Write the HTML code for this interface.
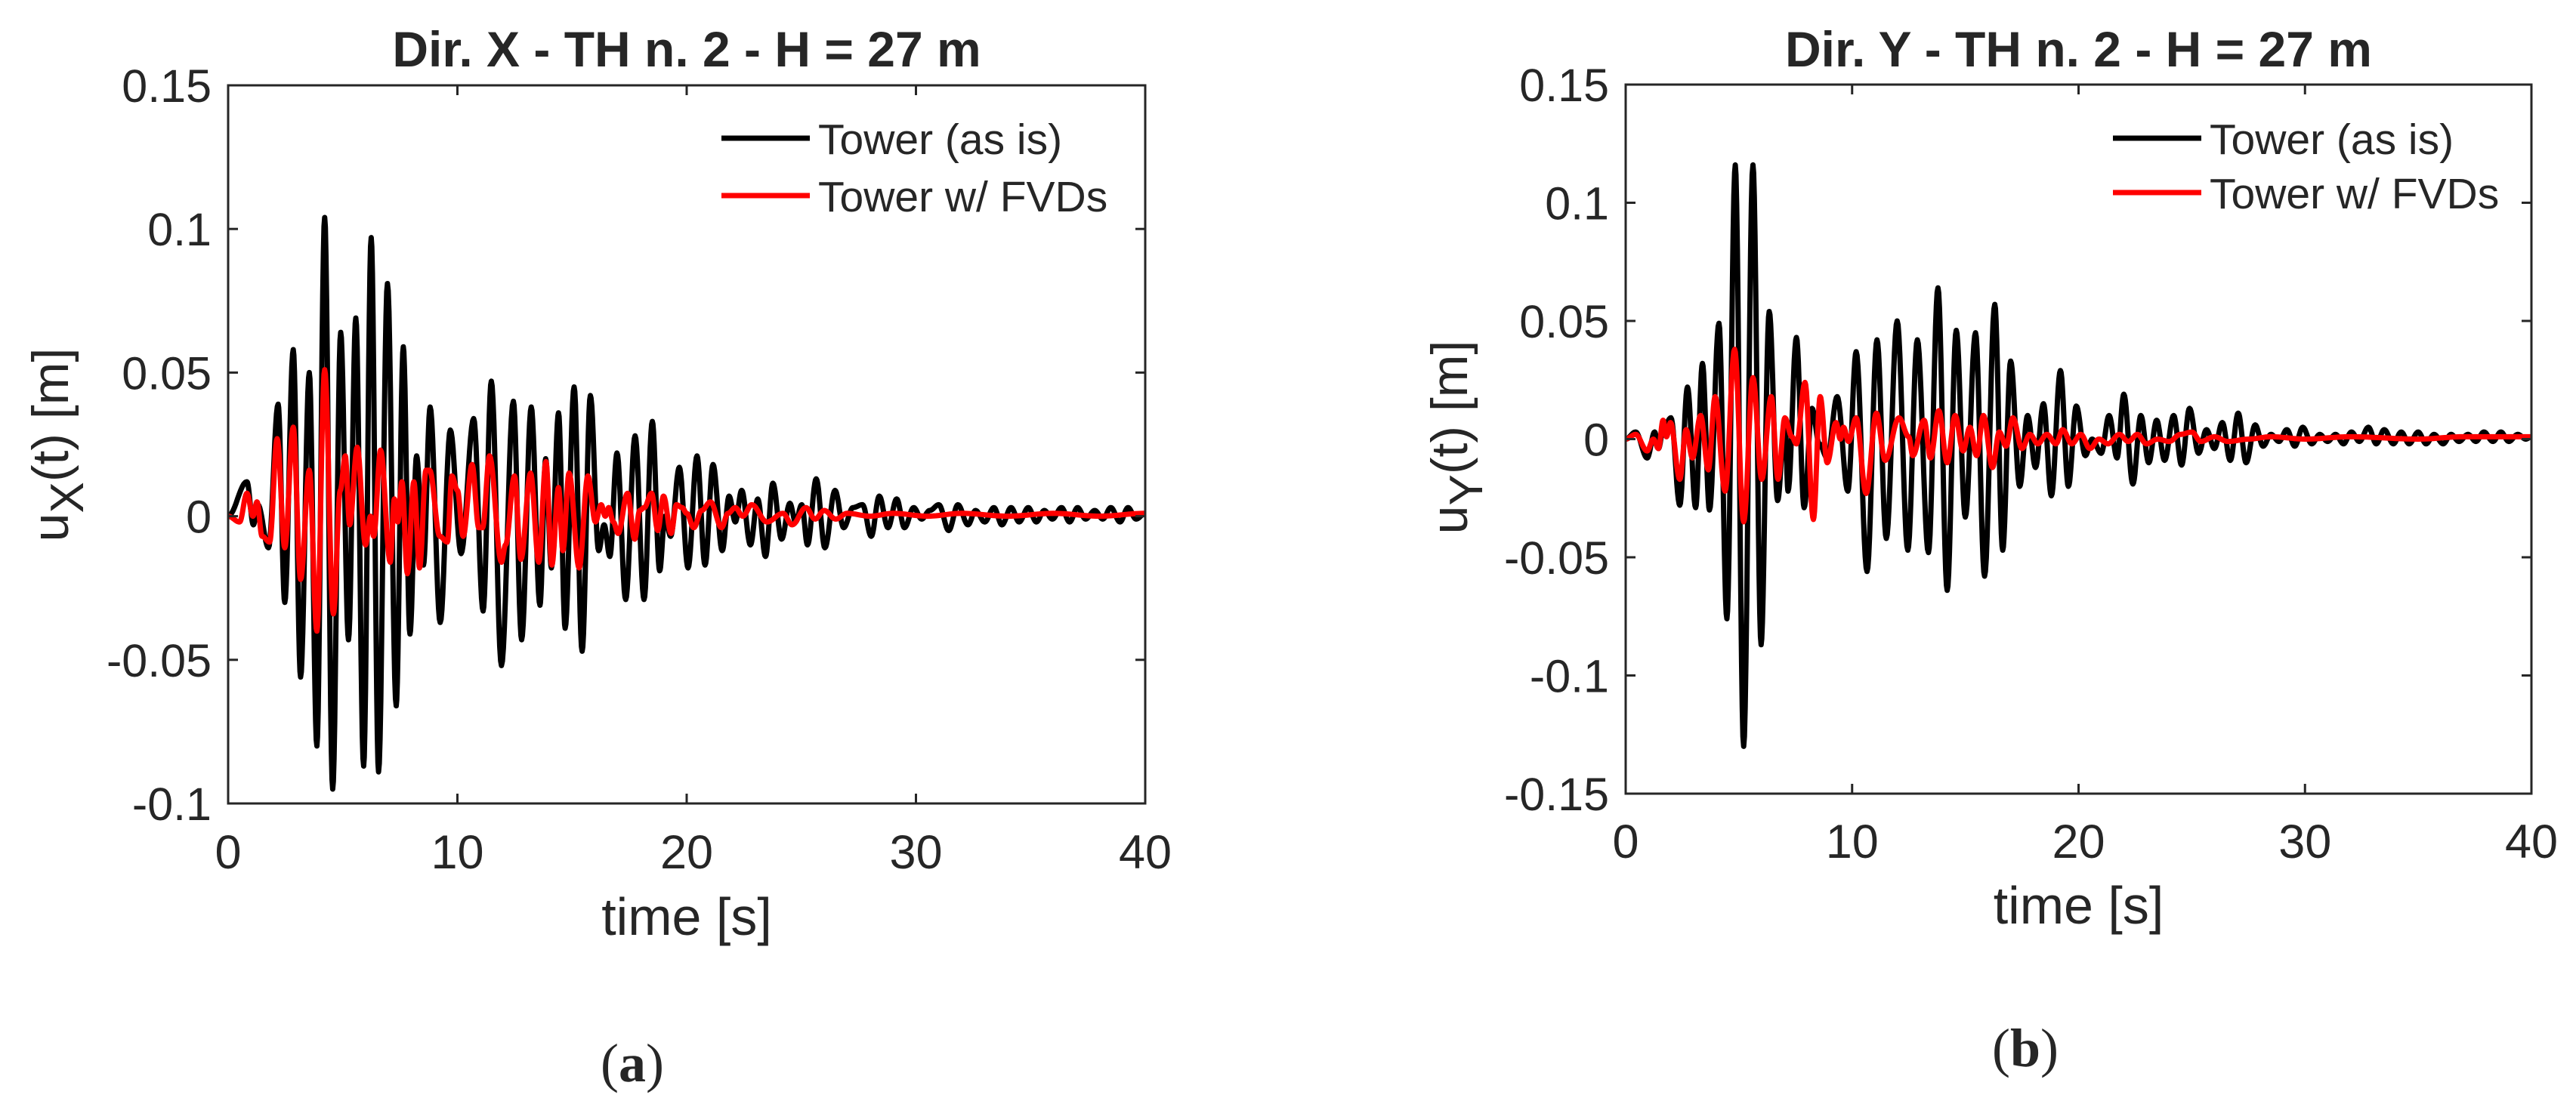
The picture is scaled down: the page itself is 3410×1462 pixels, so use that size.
<!DOCTYPE html>
<html><head><meta charset="utf-8"><style>
html,body{margin:0;padding:0;background:#fff;}
svg{display:block;}
text{font-family:"Liberation Sans",Arial,sans-serif;fill:#262626;}
</style></head>
<body>
<svg id="fig" width="3410" height="1462" viewBox="0 0 3410 1462" xmlns="http://www.w3.org/2000/svg">
<rect width="3410" height="1462" fill="#fff"/>
</svg>
<script>
// ---- Panel (a): Dir. X ----
const xTicks = [0, 10, 20, 30, 40];
const aYTicks = [-0.1, -0.05, 0, 0.05, 0.1, 0.15];
const aYTickLabels = ["-0.1", "-0.05", "0", "0.05", "0.1", "0.15"];
const aBlackT = [0,0.82,1.1,1.3,1.76,2.18,2.47,2.84,3.16,3.54,3.87,4.21,4.56,4.91,5.25,5.57,5.91,6.24,6.56,6.95,7.33,7.64,7.93,8.22,8.52,8.81,9.25,9.69,10.16,10.71,11.12,11.48,11.92,12.44,12.8,13.22,13.6,13.85,14.1,14.41,14.7,15.09,15.44,15.8,16.16,16.4,16.65,16.96,17.34,17.75,18.14,18.5,18.82,19.05,19.3,19.68,20.06,20.45,20.8,21.15,21.55,21.85,22.12,22.4,22.78,23.1,23.44,23.76,24.14,24.5,24.75,25.02,25.27,25.65,26.03,26.47,26.85,27.25,27.67,28.05,28.4,28.78,29.16,29.5,29.9,30.25,30.6,31.0,31.43,31.83,32.27,32.6,33.0,33.4,33.75,34.15,34.5,34.9,35.25,35.6,35.95,36.35,36.7,37.05,37.4,37.8,38.15,38.5,38.9,39.25,39.6,40];
const aBlackV = [0,0.012,-0.003,0.004,-0.011,0.039,-0.03,0.058,-0.056,0.05,-0.08,0.104,-0.095,0.064,-0.043,0.069,-0.087,0.097,-0.089,0.081,-0.066,0.059,-0.041,0.021,-0.017,0.038,-0.037,0.03,-0.013,0.034,-0.033,0.047,-0.052,0.04,-0.043,0.038,-0.031,0.02,-0.018,0.036,-0.039,0.045,-0.047,0.042,-0.012,-0.003,-0.014,0.022,-0.029,0.028,-0.029,0.033,-0.019,0.0,-0.007,0.017,-0.018,0.021,-0.017,0.018,-0.012,0.007,-0.002,0.009,-0.01,0.006,-0.014,0.0115,-0.008,0.0045,-0.002,0.004,-0.01,0.013,-0.011,0.009,-0.004,0.003,0.004,-0.007,0.007,-0.004,0.006,-0.004,0.003,-0.001,0.002,0.004,-0.005,0.004,-0.003,0.002,-0.002,0.003,-0.003,0.003,-0.002,0.003,-0.002,0.002,-0.001,0.003,-0.002,0.003,-0.001,0.002,-0.001,0.003,-0.002,0.003,-0.001,0.001];
const aRedT = [0,0.5,0.82,1.08,1.26,1.48,1.81,2.14,2.47,2.84,3.16,3.54,3.87,4.21,4.59,4.89,5.11,5.3,5.63,5.99,6.21,6.35,6.65,7.07,7.25,7.4,7.58,7.82,8.1,8.35,8.63,8.79,9.23,9.56,9.76,10.0,10.25,10.64,10.93,11.1,11.4,11.92,12.1,12.49,12.77,13.19,13.55,13.86,14.12,14.41,14.6,14.87,15.31,15.69,16.02,16.27,16.45,16.6,16.8,17.01,17.42,17.73,17.95,18.15,18.47,18.74,18.99,19.32,19.55,19.8,20.0,20.31,20.65,21.04,21.52,21.8,22.12,22.45,22.84,23.5,24.2,24.6,25.2,25.6,26.0,26.5,27.0,28.0,29.0,30.5,32.0,34.0,36.0,38.0,40];
const aRedV = [0,-0.002,0.008,0.0,0.005,-0.007,-0.009,0.027,-0.011,0.031,-0.022,0.016,-0.04,0.051,-0.034,0.009,0.021,-0.003,0.024,-0.01,0.0,-0.007,0.023,-0.016,0.006,-0.002,0.012,-0.02,0.012,-0.018,0.016,0.016,-0.007,-0.009,0.014,0.009,-0.007,0.018,-0.004,-0.004,0.021,-0.016,-0.01,0.014,-0.015,0.015,-0.016,0.019,-0.017,0.01,-0.012,0.015,-0.018,0.014,-0.002,0.004,0.0,0.003,-0.002,-0.006,0.008,-0.008,0.002,0.003,0.008,-0.005,0.007,-0.006,0.004,0.003,0.001,-0.004,0.002,0.005,-0.004,0.001,0.003,0.0,0.004,-0.002,0.001,-0.003,0.003,-0.001,0.002,-0.001,0.001,0.0,0.001,0.0,0.001,0.0,0.001,0.0,0.001];

// ---- Panel (b): Dir. Y ----
const bYTicks = [-0.15, -0.1, -0.05, 0, 0.05, 0.1, 0.15];
const bYTickLabels = ["-0.15", "-0.1", "-0.05", "0", "0.05", "0.1", "0.15"];
const bBlackT = [0,0.44,0.95,1.28,1.45,1.67,2.0,2.39,2.73,3.09,3.39,3.7,4.12,4.47,4.84,5.21,5.62,5.98,6.34,6.71,7.03,7.17,7.54,7.88,8.23,8.55,8.9,9.34,9.81,10.18,10.66,11.1,11.51,11.99,12.46,12.88,13.37,13.79,14.2,14.6,15.0,15.45,15.85,16.3,16.65,17.0,17.4,17.75,18.1,18.45,18.8,19.2,19.55,19.9,20.3,20.6,21.0,21.35,21.7,22.0,22.4,22.75,23.1,23.45,23.8,24.2,24.55,24.9,25.3,25.65,26.0,26.35,26.7,27.05,27.4,27.8,28.15,28.5,28.85,29.2,29.55,29.9,30.3,30.65,31.0,31.35,31.7,32.05,32.4,32.8,33.15,33.5,33.9,34.25,34.6,35.0,35.35,35.7,36.1,36.45,36.8,37.2,37.55,37.9,38.3,38.65,39.0,39.4,39.75,40];
const bBlackV = [0,0.003,-0.008,0.003,-0.004,0.005,0.009,-0.028,0.022,-0.029,0.032,-0.03,0.049,-0.076,0.116,-0.13,0.116,-0.087,0.054,-0.026,0.008,-0.022,0.043,-0.029,0.013,-0.002,-0.008,0.018,-0.022,0.037,-0.056,0.042,-0.042,0.05,-0.047,0.042,-0.048,0.064,-0.064,0.046,-0.033,0.045,-0.058,0.057,-0.047,0.033,-0.02,0.01,-0.012,0.015,-0.024,0.029,-0.02,0.014,-0.007,0.0,-0.006,0.01,-0.008,0.019,-0.019,0.01,-0.01,0.008,-0.009,0.01,-0.011,0.013,-0.006,0.004,-0.004,0.007,-0.009,0.011,-0.01,0.006,-0.003,0.002,-0.001,0.004,-0.003,0.005,-0.002,0.002,-0.001,0.002,-0.002,0.003,-0.001,0.005,-0.002,0.004,-0.002,0.003,-0.002,0.003,-0.002,0.002,-0.002,0.002,-0.001,0.002,-0.001,0.003,-0.001,0.003,-0.001,0.002,0.0,0.001];
const bRedT = [0,0.44,0.95,1.22,1.45,1.65,1.8,1.98,2.39,2.67,2.95,3.31,3.65,3.95,4.39,4.81,5.21,5.62,6.01,6.43,6.73,7.03,7.34,7.54,7.92,8.29,8.59,8.9,9.29,9.48,9.62,9.84,10.18,10.62,11.07,11.46,12.07,12.5,12.68,13.18,13.46,13.83,14.2,14.55,14.9,15.2,15.5,15.8,16.2,16.5,16.8,17.1,17.5,17.85,18.2,18.6,19.0,19.3,19.7,20.1,20.5,20.9,21.3,21.8,22.2,22.6,23.0,23.5,24.0,24.5,25.0,25.4,26.0,26.6,27.5,28.5,30.0,32.0,35.0,37.0,40];
const bRedV = [0,0.002,-0.005,0.0,-0.004,0.008,0.001,0.007,-0.017,0.004,-0.008,0.01,-0.013,0.018,-0.022,0.038,-0.035,0.026,-0.017,0.018,-0.017,0.009,0.001,-0.002,0.024,-0.034,0.018,-0.01,0.007,0.0,0.005,-0.001,0.009,-0.023,0.011,-0.009,0.009,0.001,-0.007,0.008,-0.008,0.012,-0.01,0.01,-0.005,0.005,-0.007,0.01,-0.012,0.003,-0.003,0.009,-0.004,0.002,-0.002,0.002,-0.002,0.004,-0.002,0.002,-0.004,0.0,-0.002,0.002,-0.001,0.002,-0.002,0.0,-0.001,0.002,0.003,-0.001,0.001,-0.001,0.0,0.001,0.0,0.001,0.0,0.001,0.001];

const NS = "http://www.w3.org/2000/svg";
const svg = document.getElementById('fig');
function mk(tag, attrs, parent) {
  const e = document.createElementNS(NS, tag);
  for (const k in attrs) e.setAttribute(k, attrs[k]);
  (parent || svg).appendChild(e);
  return e;
}

function panel(cfg) {
  const g = mk('g', {});
  
  
  const L = cfg.left, R = cfg.right, T = cfg.top, B = cfg.bottom;
  const xs = t => L + t / 40 * (R - L);
  const ys = v => B - (v - cfg.ymin) / (cfg.ymax - cfg.ymin) * (B - T);

  const clipId = cfg.name + '-clip';
  const cp = mk('clipPath', {id: clipId}, g);
  mk('rect', {x: L, y: T, width: R - L, height: B - T}, cp);
  const sg = mk('g', {'clip-path': 'url(#' + clipId + ')'}, g);
  function series(ts, vs, color, nm) {
    let d = '';
    for (let i = 0; i < ts.length - 1; i++) {
      const t0 = ts[i], t1 = ts[i + 1], v0 = vs[i], v1 = vs[i + 1];
      const n = 12;
      for (let k = (i === 0 ? 0 : 1); k <= n; k++) {
        const f = k / n;
        const w = (1 - Math.cos(Math.PI * f)) / 2;
        d += (d ? 'L' : 'M') + xs(t0 + (t1 - t0) * f).toFixed(1) + ' ' + ys(v0 + (v1 - v0) * w).toFixed(1);
      }
    }
    const p = mk('path', {d: d, fill: 'none', stroke: color, 'stroke-width': 7, 'stroke-linejoin': 'round'}, sg);
    
    
  }
  series(cfg.blackT, cfg.blackV, '#000000', 'series-tower-as-is');
  series(cfg.redT, cfg.redV, '#ff0000', 'series-tower-fvds');

  xTicks.forEach(t => {
    const x = xs(t);
    mk('line', {x1: x, y1: B, x2: x, y2: B - 13, stroke: '#262626', 'stroke-width': 3}, g);
    mk('line', {x1: x, y1: T, x2: x, y2: T + 13, stroke: '#262626', 'stroke-width': 3}, g);
    const tx = mk('text', {x: x, y: B + cfg.xLabOff, 'text-anchor': 'middle', 'font-size': 63}, g);
    tx.textContent = String(t);
    
    
  });
  cfg.yTicks.forEach((v, i) => {
    const y = ys(v);
    mk('line', {x1: L, y1: y, x2: L + 13, y2: y, stroke: '#262626', 'stroke-width': 3}, g);
    mk('line', {x1: R, y1: y, x2: R - 13, y2: y, stroke: '#262626', 'stroke-width': 3}, g);
    const tx = mk('text', {x: L - 22, y: y + 22, 'text-anchor': 'end', 'font-size': 61}, g);
    tx.textContent = cfg.yTickLabels[i];
    
    
  });
  const box = mk('rect', {x: L, y: T, width: R - L, height: B - T, fill: 'none', stroke: '#262626', 'stroke-width': 3}, g);
  
  

  const ti = mk('text', {x: (L + R) / 2, y: 88, 'text-anchor': 'middle', 'font-size': 66, 'font-weight': 'bold', fill: '#000'}, g);
  ti.textContent = cfg.title;
  
  
  const xl = mk('text', {x: (L + R) / 2, y: cfg.xTitleY, 'text-anchor': 'middle', 'font-size': 70}, g);
  xl.textContent = 'time [s]';
  
  
  const yl = mk('text', {x: 0, y: 0, 'text-anchor': 'middle', 'font-size': 68, transform: 'translate(' + cfg.yTitleX + ',' + cfg.yTitleY + ') rotate(-90)'}, g);
  
  
  const t1 = mk('tspan', {}, yl); t1.textContent = 'u';
  const t2 = mk('tspan', {dy: 20, 'font-size': 62}, yl); t2.textContent = cfg.sub;
  const t3 = mk('tspan', {dy: -20}, yl); t3.textContent = '(t) [m]';

  const lg = mk('g', {}, g);
  
  
  [['Tower (as is)', '#000', cfg.legY[0]], ['Tower w/ FVDs', '#ff0000', cfg.legY[1]]].forEach(e => {
    const eg = mk('g', {}, lg);
    
    
    mk('line', {x1: cfg.legX, y1: e[2], x2: cfg.legX + 117, y2: e[2], stroke: e[1], 'stroke-width': 7}, eg);
    const tx = mk('text', {x: cfg.legX + 128, y: e[2] + 21, 'font-size': 57, fill: '#000'}, eg);
    tx.textContent = e[0];
  });

  const cap = mk('text', {x: cfg.capX, y: cfg.capY, 'text-anchor': 'middle', 'font-size': 72, fill: '#000', style: 'font-family:"Liberation Serif",serif;font-weight:bold'}, g);
  
  
  const c1 = mk('tspan', {style: 'font-weight:normal'}, cap); c1.textContent = '(';
  const c2 = mk('tspan', {}, cap); c2.textContent = cfg.cap;
  const c3 = mk('tspan', {style: 'font-weight:normal'}, cap); c3.textContent = ')';
}

panel({name: 'panel-a-dir-x', left: 302, right: 1516, top: 113, bottom: 1064, ymin: -0.1, ymax: 0.15,
  yTicks: aYTicks, yTickLabels: aYTickLabels, blackT: aBlackT, blackV: aBlackV, redT: aRedT, redV: aRedV,
  title: 'Dir. X - TH n. 2 - H = 27 m', sub: 'X', xLabOff: 86, xTitleY: 1238, yTitleX: 90, yTitleY: 589,
  legX: 955, legY: [183, 259], capX: 837, capY: 1432, cap: 'a'});
panel({name: 'panel-b-dir-y', left: 2152, right: 3351, top: 112, bottom: 1051, ymin: -0.15, ymax: 0.15,
  yTicks: bYTicks, yTickLabels: bYTickLabels, blackT: bBlackT, blackV: bBlackV, redT: bRedT, redV: bRedV,
  title: 'Dir. Y - TH n. 2 - H = 27 m', sub: 'Y', xLabOff: 85, xTitleY: 1223, yTitleX: 1942, yTitleY: 579,
  legX: 2797, legY: [183, 255], capX: 2681, capY: 1412, cap: 'b'});
</script>
</body></html>
